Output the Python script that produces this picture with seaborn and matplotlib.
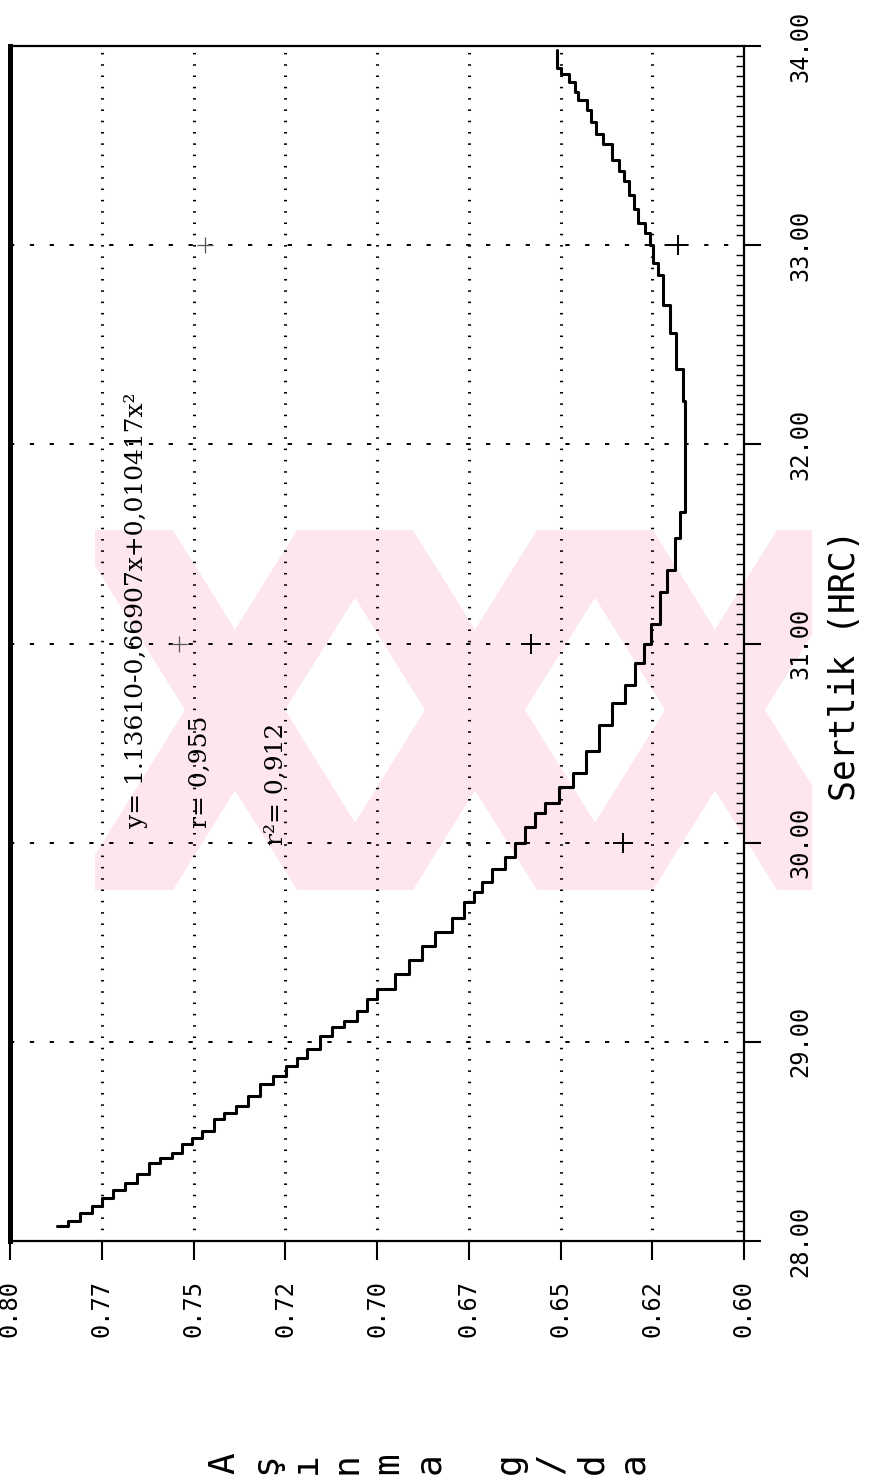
import matplotlib
matplotlib.use("Agg")
import matplotlib.pyplot as plt
import seaborn as sns
import pandas as pd
from matplotlib.patches import Polygon, Rectangle
from matplotlib.ticker import MultipleLocator

# ---------------- data ----------------
hrc = [28.074, 28.099, 28.141, 28.174, 28.216, 28.258, 28.292, 28.334, 28.393, 28.418,
       28.443, 28.485, 28.518, 28.552, 28.611, 28.644, 28.678, 28.728, 28.787, 28.829,
       28.879, 28.921, 28.963, 29.030, 29.072, 29.106, 29.156, 29.215, 29.265,
       29.34, 29.41, 29.48, 29.55, 29.62, 29.70, 29.75, 29.80, 29.87, 29.93, 30.00,
       30.08, 30.15, 30.20, 30.28, 30.35, 30.46, 30.59, 30.70, 30.79, 30.90, 31.00,
       31.10, 31.26, 31.37, 31.53, 31.66, 31.79, 32.00, 32.22, 32.38, 32.56, 32.70,
       32.85, 32.91, 33.00, 33.06, 33.11, 33.18, 33.25, 33.32, 33.37, 33.43, 33.51,
       33.56, 33.62, 33.68, 33.73, 33.77, 33.82, 33.86, 33.89, 33.98]
wear = [0.7873, 0.7841, 0.7809, 0.7777, 0.7750, 0.7718, 0.7686, 0.7654, 0.7622, 0.7590,
        0.7558, 0.7530, 0.7503, 0.7476, 0.7444, 0.7416, 0.7384, 0.7352, 0.7320, 0.7283,
        0.7247, 0.7219, 0.7192, 0.7155, 0.7123, 0.7091, 0.7055, 0.7027, 0.7000,
        0.6952, 0.6913, 0.6878, 0.6843, 0.6796, 0.6764, 0.6736, 0.6715, 0.6687, 0.6652, 0.6625,
        0.6597, 0.6570, 0.6543, 0.6505, 0.6465, 0.6430, 0.6395, 0.6360, 0.6325, 0.6298, 0.6272,
        0.6254, 0.6230, 0.6210, 0.6189, 0.6175, 0.6160, 0.6160, 0.6162, 0.6167, 0.6184, 0.6202,
        0.6222, 0.6235, 0.6248, 0.6257, 0.6270, 0.6288, 0.6301, 0.6314, 0.6328, 0.6341, 0.6359,
        0.6385, 0.6403, 0.6416, 0.6429, 0.6451, 0.6460, 0.6478, 0.6500, 0.6509]

# measured points (clear ones, then the faint ones)
pt_hrc = [30.0, 31.0, 33.0]
pt_wear = [0.633, 0.658, 0.618]
faint_hrc = [31.0, 33.0]
faint_wear = [0.754, 0.747]

wear_ticks = [0.80, 0.775, 0.75, 0.725, 0.70, 0.675, 0.65, 0.625, 0.60]
wear_labels = ["0.80", "0.77", "0.75", "0.72", "0.70", "0.67", "0.65", "0.62", "0.60"]
hrc_ticks = [28, 29, 30, 31, 32, 33, 34]
hrc_labels = ["28.00", "29.00", "30.00", "31.00", "32.00", "33.00", "34.00"]

eq_text = "y= 1.13610-0,66907x+0,010417x\u00b2"
r_text = "r= 0,955"
r2_text = "r\u00b2= 0,912"
xlabel_text = "Sertlik (HRC)"
ylabel_chars = ["A", "ş", "ı", "n", "m", "a", "g", "/", "d", "a"]

# ---------------- figure ----------------
sns.set_theme(style="white")
plt.rcParams["font.family"] = ["DejaVu Sans Mono", "DejaVu Sans"]

W, H = 869, 1483
fig = plt.figure(figsize=(W / 100, H / 100), dpi=100)
fig.patch.set_facecolor("white")


def fx(px):
    return px / W


def fy(py):
    return 1 - py / H


# watermark (decoration, figure pixel space)
pink = "#fde7ec"
clip = Rectangle((fx(95), fy(890)), fx(812) - fx(95), fy(530) - fy(890),
                 transform=fig.transFigure, facecolor="none", edgecolor="none")
fig.add_artist(clip)
bw = 100
for c in [235, 475, 715]:
    for (xt, xb) in [(c + 112, c - 112), (c - 112, c + 112)]:
        poly = Polygon([(fx(xt - bw / 2), fy(530)), (fx(xt + bw / 2), fy(530)),
                        (fx(xb + bw / 2), fy(890)), (fx(xb - bw / 2), fy(890))],
                       closed=True, transform=fig.transFigure, facecolor=pink,
                       edgecolor="none", zorder=-5)
        poly.set_clip_path(clip)
        fig.add_artist(poly)

ax = fig.add_axes([fx(10), fy(1241), fx(744) - fx(10), fy(46) - fy(1241)])
ax.set_facecolor("none")

df = pd.DataFrame({"wear": wear, "hrc": hrc})
sns.lineplot(data=df, x="wear", y="hrc", orient="y", estimator=None, sort=True,
             color="black", linewidth=2.2, drawstyle="steps-post", ax=ax, zorder=4)
sns.scatterplot(x=pt_wear, y=pt_hrc, marker="+", s=220, color="black",
                linewidth=1.4, ax=ax, zorder=5)
sns.scatterplot(x=faint_wear, y=faint_hrc, marker="+", s=130, color="#555555",
                linewidth=0.9, ax=ax, zorder=5)

ax.set_xlim(0.80, 0.60)
ax.set_ylim(28, 34)
ax.set_xlabel("")
ax.set_ylabel("")

ax.set_xticks(wear_ticks)
ax.set_xticklabels(wear_labels, rotation=90, fontsize=17)
ax.yaxis.tick_right()
ax.set_yticks(hrc_ticks)
ax.set_yticklabels(hrc_labels, rotation=90, fontsize=17)
for lbl in ax.get_yticklabels():
    lbl.set_va("center")
ax.yaxis.set_minor_locator(MultipleLocator(0.05))

ax.tick_params(axis="x", which="major", direction="out", length=14, width=1.5,
               pad=14, colors="black", bottom=True)
ax.tick_params(axis="y", which="major", direction="out", length=12, width=1.5,
               pad=20, colors="black", right=True, left=False)
ax.tick_params(axis="y", which="minor", direction="in", length=6, width=1.0,
               colors="black", right=True, left=False)

ax.xaxis.grid(True, linestyle=(0, (0.5, 3.2)), linewidth=2.2, color="black")
ax.yaxis.grid(True, which="major", linestyle=(0, (2.2, 8.0)), linewidth=1.4, color="black")
ax.set_axisbelow(True)

for side, sp in ax.spines.items():
    sp.set_visible(True)
    sp.set_color("black")
    sp.set_linewidth(1.6)
ax.spines["left"].set_linewidth(3.6)

# annotations
fig.text(fx(136), fy(828), eq_text, rotation=90, ha="center", va="bottom",
         fontsize=18, family=["DejaVu Serif"], color="black")
fig.text(fx(200), fy(828), r_text, rotation=90, ha="center", va="bottom",
         fontsize=18, family=["DejaVu Serif"], color="black")
fig.text(fx(276), fy(845), r2_text, rotation=90, ha="center", va="bottom",
         fontsize=18, family=["DejaVu Serif"], color="black")

# axis titles
fig.text(fx(845), fy(665), xlabel_text, rotation=90, ha="center", va="center",
         fontsize=25, color="black")
xs = [224, 265, 306, 347, 388, 429, 510, 551, 592, 633]
for ch, xc in zip(ylabel_chars, xs):
    fig.text(fx(xc), fy(1463), ch, rotation=90, ha="center", va="center",
             fontsize=26, color="black")

fig.savefig("out.png", dpi=100, facecolor="white")
